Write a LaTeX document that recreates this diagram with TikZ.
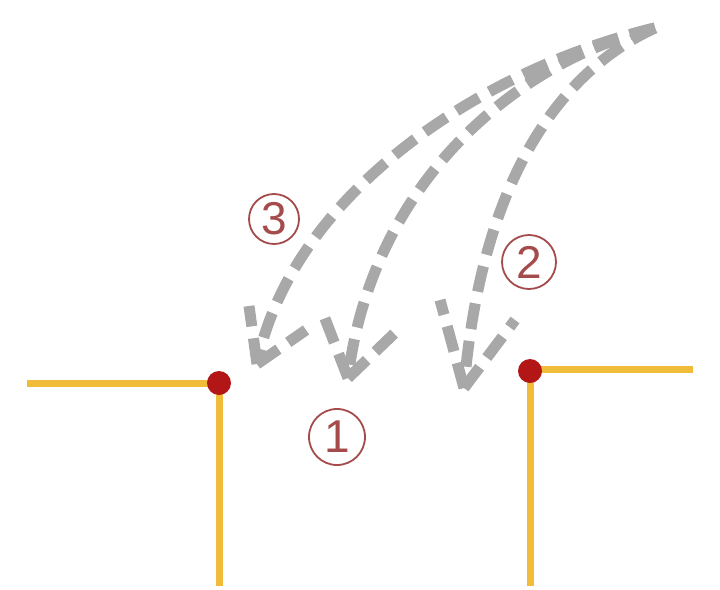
\documentclass[tikz,border=0pt]{standalone}
\usepackage{fontspec}
\setmainfont{Liberation Sans}
\begin{document}
\begin{tikzpicture}[x=1pt,y=-1pt,
  match/.style={draw=matchc, line width=7pt},
  head/.style={circle, fill=headc, minimum size=24pt, inner sep=0pt},
  dpath/.style={draw=pathc, line width=11pt, dash pattern=on 26pt off 12pt, line cap=butt},
  num/.style={circle, draw=numc, line width=1.8pt, text=numc, font=\fontsize{46}{46}\selectfont, inner sep=0pt, minimum size=#1},
  num/.default=54pt
]
\definecolor{matchc}{RGB}{240,188,58}
\definecolor{headc}{RGB}{178,22,22}
\definecolor{pathc}{RGB}{168,168,168}
\definecolor{numc}{RGB}{165,75,75}
\useasboundingbox[fill=white] (0,0) rectangle (720,589);

% matchsticks
\coordinate (hlc) at (219,383);
\coordinate (hrc) at (530,371);
\coordinate (hrs) at (530,369);
\coordinate (lh) at (27,383);
\coordinate (lv) at (219,586);
\coordinate (rh) at (693,369);
\coordinate (rv) at (530,586);
\draw[match] (lh) -- (hlc);
\draw[match] (hlc) -- (lv);
\draw[match] (hrs) -- (rh);
\draw[match] (hrc) -- (rv);
\node[head] (hl) at (hlc) {};
\node[head] (hr) at (hrc) {};

% dashed arrows
\coordinate (s) at (655,28);
\coordinate (t3) at (257,364);
\coordinate (l3) at (249,306);
\coordinate (r3) at (306,330);
\coordinate (t1) at (348,378);
\coordinate (l1) at (324,316);
\coordinate (r1) at (402,326);
\coordinate (t2) at (464,388);
\coordinate (l2) at (440,300);
\coordinate (r2) at (515,320);

\draw[dpath] (s) .. controls (485,68) and (292,192) .. (t3);
\draw[dpath] (s) .. controls (520,60) and (372,180) .. (t1);
\draw[dpath] (s) .. controls (550,76) and (480,195) .. (t2);
\draw[dpath] (t3) -- (l3);
\draw[dpath] (t3) -- (r3);
\draw[dpath] (t1) -- (l1);
\draw[dpath] (t1) -- (r1);
\draw[dpath] (t2) -- (l2);
\draw[dpath] (t2) -- (r2);

% circled numbers
\node[num=50pt] (n3) at (274,219) {3};
\node[num=54pt] (n2) at (529,262) {2};
\node[num=56pt] (n1) at (337,437) {1};
\end{tikzpicture}
\end{document}
